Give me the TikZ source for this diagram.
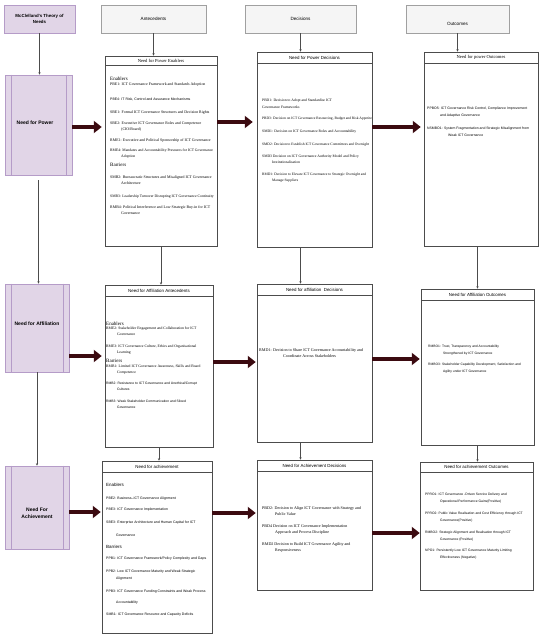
\documentclass[tikz,border=0pt]{standalone}
\usepackage{fontspec}
\setmainfont{Liberation Serif}
\setsansfont{Liberation Sans}
\usetikzlibrary{arrows.meta,calc,fit}
\definecolor{purp}{HTML}{E1D5E7}
\definecolor{purpd}{HTML}{B59CC8}
\definecolor{hdrfill}{HTML}{F5F5F5}
\definecolor{hdrdraw}{HTML}{A0A0A0}
\definecolor{fatc}{HTML}{3B0A10}
\begin{document}
\begin{tikzpicture}[x=1pt,y=-1pt,
  purpbox/.style={draw=purpd,fill=purp,line width=0.6pt,inner sep=0pt,font=\sffamily\bfseries\fontsize{5}{6.5}\selectfont,align=center},
  hdrbox/.style={draw=hdrdraw,fill=hdrfill,line width=0.6pt,inner sep=0pt,font=\sffamily\fontsize{4.6}{6}\selectfont,align=center},
  bodybox/.style={draw=black!70,fill=white,line width=0.5pt,inner sep=0pt},
  band/.style={draw=black!70,line width=0.5pt,inner sep=0pt,font=\sffamily\fontsize{4.4}{5}\selectfont},
  bandS/.style={band,font=\fontsize{4.6}{5}\selectfont},
  itS/.style={anchor=base west,inner sep=0pt,align=left,font=\fontsize{3.9}{6}\selectfont},
  itA/.style={anchor=base west,inner sep=0pt,align=left,font=\sffamily\fontsize{3.5}{6.5}\selectfont},
  sect/.style={anchor=base west,inner sep=0pt,font=\fontsize{5}{6}\selectfont},
  thinarr/.style={draw=black!70,line width=0.5pt,-{Stealth[length=2.5pt,width=2.2pt]}},
  fat/.style={draw=fatc,line width=4.5pt,-{Triangle[length=8pt,width=12pt]}}
]
\useasboundingbox (0,0) rectangle (550,639);

% header boxes
\node[hdrbox,fill=purp,draw=purpd,fit={(4,5) (75,33)}] (mc) {};
\node[font=\sffamily\bfseries\fontsize{4.4}{6.5}\selectfont,align=center,inner sep=0pt] (mct) at (mc.center) {McClelland's Theory of\\Needs};
\node[hdrbox,fit={(101,5) (206,33)}] (hA) {};
\node[font=\sffamily\fontsize{4.6}{6}\selectfont,inner sep=0pt] (hAt) at (hA.center) {Antecedents};
\node[hdrbox,fit={(245,5) (356,33)}] (hD) {};
\node[font=\sffamily\fontsize{4.6}{6}\selectfont,inner sep=0pt] (hDt) at (hD.center) {Decisions};
\node[hdrbox,fit={(406,5) (509,33)}] (hO) {};
\node[font=\sffamily\fontsize{4.6}{6}\selectfont,inner sep=0pt] (hOt) at (457.5,24) {Outcomes};

% left need boxes
\node[purpbox,fit={(5,75) (72,175)}] (np) {};
\node[font=\sffamily\bfseries\fontsize{5}{6.5}\selectfont,inner sep=0pt] (npt) at (35,123) {Need for Power};
\draw[purpd,line width=0.5pt] ([xshift=7pt]np.north west) -- ([xshift=7pt]np.south west);
\draw[purpd,line width=0.5pt] ([xshift=-6pt]np.north east) -- ([xshift=-6pt]np.south east);

\node[purpbox,fit={(5,284) (69,372)}] (na) {};
\node[font=\sffamily\bfseries\fontsize{5}{6.5}\selectfont,inner sep=0pt] (nat) at (37,324) {Need for Affiliation};
\draw[purpd,line width=0.5pt] ([xshift=7pt]na.north west) -- ([xshift=7pt]na.south west);
\draw[purpd,line width=0.5pt] ([xshift=-6pt]na.north east) -- ([xshift=-6pt]na.south east);

\node[purpbox,fit={(5,466) (69,549)}] (nh) {};
\node[font=\sffamily\bfseries\fontsize{5}{6.5}\selectfont,inner sep=0pt,align=center] (nht) at (37,513) {Need For\\Achievement};
\draw[purpd,line width=0.5pt] ([xshift=7pt]nh.north west) -- ([xshift=7pt]nh.south west);
\draw[purpd,line width=0.5pt] ([xshift=-6pt]nh.north east) -- ([xshift=-6pt]nh.south east);

% ---------- row 1: power ----------
\node[bodybox,fit={(105,56) (217,246)}] (pe) {};
\node[bandS,fit={(105,56) (217,65)}] (peT) {};
\node[font=\fontsize{4.6}{5}\selectfont,inner sep=0pt] (peTt) at (peT.center) {Need for Power Enablers};
\node[sect] (peEn) at (110,80.8) {Enablers};
\node[itS] (pe1) at (110,85.6) {PBE1: ICT Governance Framework and Standards Adoption};
\node[itA] (pe2) at (110,100.6) {PBE4: IT Risk, Control and Assurance Mechanisms};
\node[itS] (pe3) at (110,113.6) {SBE1: Formal ICT Governance Structures and Decision Rights};
\node[itS] (pe4) at (110,130.6) {SBE2: Executive ICT Governance Roles and Competence\\\hspace*{11pt}(CIO/Board)};
\node[itS] (pe5) at (110,141.6) {RME1: Executive and Political Sponsorship of ICT Governance};
\node[itS,font=\fontsize{3.75}{6}\selectfont] (pe6) at (110,157.6) {RME4: Mandates and Accountability Pressures for ICT Governance\\\hspace*{11pt}Adoption};
\node[sect] (peBa) at (110,166.8) {Barriers};
\node[itS] (pe7) at (110,184.6) {SMB2: Bureaucratic Structures and Misaligned ICT Governance\\\hspace*{11pt}Architecture};
\node[itS,font=\fontsize{3.75}{6}\selectfont] (pe8) at (110,197.6) {SMB3: Leadership Turnover Disrupting ICT Governance Continuity};
\node[itS] (pe9) at (110,214.6) {RMB4: Political Interference and Low Strategic Buy-in for ICT\\\hspace*{11pt}Governance};

\node[bodybox,fit={(257,52) (372,247)}] (pd) {};
\node[band,fit={(257,52) (372,63)}] (pdT) {};
\node[font=\sffamily\fontsize{4.4}{5}\selectfont,inner sep=0pt] (pdTt) at (pdT.center) {Need for Power Decisions};
\node[itS,font=\fontsize{3.7}{7}\selectfont] (pd1) at (262,108.5) {PBD1: Decision to Adopt and Standardise ICT\\Governance Frameworks};
\node[itS,font=\fontsize{3.6}{6}\selectfont] (pd2) at (262,119.5) {PBD3: Decision on ICT Governance Resourcing, Budget and Risk Appetite};
\node[itS,font=\fontsize{3.7}{6}\selectfont] (pd3) at (262,132.5) {SMD1: Decision on ICT Governance Roles and Accountability};
\node[itS,font=\fontsize{3.6}{6}\selectfont] (pd4) at (262,145.5) {SMD2: Decision to Establish ICT Governance Committees and Oversight};
\node[itS,font=\fontsize{3.7}{6}\selectfont] (pd5) at (262,163.5) {SMD3 Decision on ICT Governance Authority Model and Policy\\\hspace*{10pt}Institutionalisation};
\node[itS,font=\fontsize{3.6}{6}\selectfont] (pd6) at (262,181.5) {RMD1: Decision to Elevate ICT Governance to Strategic Oversight and\\\hspace*{10pt}Manage Suppliers};

\node[bodybox,fit={(424,52) (538,246)}] (po) {};
\node[bandS,fit={(424,52) (538,63)}] (poT) {};
\node[font=\fontsize{4.6}{5}\selectfont,inner sep=0pt] (poTt) at (poT.center) {Need for power Outcomes};
\node[itA,font=\sffamily\fontsize{3.45}{7.5}\selectfont] (po1) at (427,117) {PPBO5: ICT Governance Risk Control, Compliance Improvement\\\hspace*{13pt}and Adaptive Governance};
\node[itA,font=\sffamily\fontsize{3.45}{7}\selectfont] (po2) at (427,136.5) {NSMBO1: System Fragmentation and Strategic Misalignment from\\\hspace*{21pt}Weak ICT Governance};

% ---------- row 2: affiliation ----------
\node[bodybox,fit={(105,285) (213,447)}] (aa) {};
\node[band,fit={(105,285) (213,296)}] (aaT) {};
\node[font=\sffamily\fontsize{4.4}{5}\selectfont,inner sep=0pt] (aaTt) at (aaT.center) {Need for Affiliation Antecedents};
\node[sect] (aaEn) at (106,325) {Enablers};
\node[itS,font=\fontsize{3.75}{6}\selectfont] (aa1) at (106,335.6) {RME2: Stakeholder Engagement and Collaboration for ICT\\\hspace*{11pt}Governance};
\node[itS,font=\fontsize{3.75}{6}\selectfont] (aa2) at (106,353.6) {RME3: ICT Governance Culture, Ethics and Organisational\\\hspace*{11pt}Learning};
\node[sect] (aaBa) at (106,362) {Barriers};
\node[itS,font=\fontsize{3.75}{6}\selectfont] (aa3) at (106,373.6) {RMB1: Limited ICT Governance Awareness, Skills and Board\\\hspace*{11pt}Competence};
\node[itA,font=\sffamily\fontsize{3.35}{6}\selectfont] (aa4) at (106,390.6) {RMB2: Resistance to ICT Governance and Unethical/Corrupt\\\hspace*{11pt}Cultures};
\node[itA,font=\sffamily\fontsize{3.35}{6}\selectfont] (aa5) at (106,408.6) {RMB3: Weak Stakeholder Communication and Siloed\\\hspace*{11pt}Governance};

\node[bodybox,fit={(257,284) (372,442)}] (ad) {};
\node[band,fit={(257,284) (372,295)}] (adT) {};
\node[font=\sffamily\fontsize{4.4}{5}\selectfont,inner sep=0pt] (adTt) at (adT.center) {Need for affiliation\ \ Decisions};
\node[itS,font=\fontsize{4.1}{6}\selectfont] (ad1) at (259,357.5) {RMD1: Decision to Share ICT Governance Accountability and\\\hspace*{24pt}Coordinate Across Stakeholders};

\node[bodybox,fit={(421,289) (534,445)}] (ao) {};
\node[band,fit={(421,289) (534,300)}] (aoT) {};
\node[font=\sffamily\fontsize{4.4}{5}\selectfont,inner sep=0pt] (aoTt) at (aoT.center) {Need for Affiliation Outcomes};
\node[itA,font=\sffamily\fontsize{3.3}{6.5}\selectfont] (ao1) at (428,354) {RMBO1: Trust, Transparency and Accountability\\\hspace*{15pt}Strengthened by ICT Governance};
\node[itA,font=\sffamily\fontsize{3.3}{6.5}\selectfont] (ao2) at (428,372) {RMBO3: Stakeholder Capability Development, Satisfaction and\\\hspace*{15pt}Agility under ICT Governance};

% ---------- row 3: achievement ----------
\node[bodybox,fit={(102,461) (212,633)}] (ha) {};
\node[band,fit={(102,461) (212,472)}] (haT) {};
\node[font=\sffamily\fontsize{4.4}{5}\selectfont,inner sep=0pt] (haTt) at (haT.center) {Need for achievement};
\node[sect,font=\sffamily\fontsize{4.5}{6}\selectfont] (haEn) at (106,486) {Enablers};
\node[itA] (ha1) at (106,499.5) {PBE2: Business–ICT Governance Alignment};
\node[itA] (ha2) at (106,510.5) {PBE3: ICT Governance Implementation};
\node[itA] (ha3) at (106,523.5) {SBE3: Enterprise Architecture and Human Capital for ICT};
\node[itA] (ha4) at (116,536.5) {Governance};
\node[sect,font=\sffamily\fontsize{4.5}{6}\selectfont] (haBa) at (106,548) {Barriers};
\node[itA] (ha5) at (106,559.5) {PPB1: ICT Governance Framework/Policy Complexity and Gaps};
\node[itA,font=\sffamily\fontsize{3.5}{7}\selectfont] (ha6) at (106,579.5) {PPB2: Low ICT Governance Maturity and Weak Strategic\\\hspace*{10pt}Alignment};
\node[itA] (ha7) at (106,592.5) {PPB3: ICT Governance Funding Constraints and Weak Process};
\node[itA] (ha8) at (116,603.5) {Accountability};
\node[itA] (ha9) at (106,615.5) {SMB1: ICT Governance Resource and Capacity Deficits};

\node[bodybox,fit={(257,460) (372,590)}] (hd) {};
\node[band,fit={(257,460) (372,471)}] (hdT) {};
\node[font=\sffamily\fontsize{4.4}{5}\selectfont,inner sep=0pt] (hdTt) at (hdT.center) {Need for Achievement Decisions};
\node[itS,font=\fontsize{4.05}{6.2}\selectfont] (hd1) at (262,515.7) {PBD2: Decision to Align ICT Governance with Strategy and\\\hspace*{13pt}Public Value};
\node[itS,font=\fontsize{4.05}{6.2}\selectfont] (hd2) at (262,533.7) {PBD4 Decision on ICT Governance Implementation\\\hspace*{13pt}Approach and Process Discipline};
\node[itS,font=\fontsize{4.05}{6.2}\selectfont] (hd3) at (262,551.7) {RMD2 Decision to Build ICT Governance Agility and\\\hspace*{13pt}Responsiveness};

\node[bodybox,fit={(420,462) (533,590)}] (ho) {};
\node[band,fit={(420,462) (533,472)}] (hoT) {};
\node[font=\sffamily\fontsize{4.4}{5}\selectfont,inner sep=0pt] (hoTt) at (hoT.center) {Need for achievement Outcomes};
\node[itA,font=\sffamily\fontsize{3.35}{7}\selectfont] (ho1) at (425,502.5) {PPRO1: ICT Governance -Driven Service Delivery and\\\hspace*{15pt}Operational Performance Gains(Positive)};
\node[itA,font=\sffamily\fontsize{3.35}{6.5}\selectfont] (ho2) at (425,521) {PPRO2: Public Value Realisation and Cost Efficiency through ICT\\\hspace*{15pt}Governance(Positive)};
\node[itA,font=\sffamily\fontsize{3.35}{6.5}\selectfont] (ho3) at (425,540) {RMBO2: Strategic Alignment and Realisation through ICT\\\hspace*{15pt}Governance (Positive)};
\node[itA,font=\sffamily\fontsize{3.35}{6.5}\selectfont] (ho4) at (425,558) {NPO1: Persistently Low ICT Governance Maturity Limiting\\\hspace*{15pt}Effectiveness (Negative)};

% ---------- thin connectors ----------
\draw[thinarr] (mc.south) -- (mc.south |- np.north);
\draw[thinarr] ([yshift=-5pt]np.south) -- (np.south |- na.north);
\draw[thinarr] (na.south) -- (na.south |- nh.north);

\draw[thinarr] (hA.south) -- (hA.south |- pe.north);
\draw[thinarr] (pe.south) -- (pe.south |- aa.north);
\draw[thinarr] (aa.south) -- (aa.south |- ha.north);

\draw[thinarr] (hD.south) -- (hD.south |- pd.north);
\draw[thinarr] (hD.south |- pd.south) -- (hD.south |- ad.north);
\draw[thinarr] (hD.south |- ad.south) -- (hD.south |- hd.north);

\draw[thinarr] (hO.south) -- (hO.south |- po.north);
\draw[thinarr] (ao.north |- po.south) -- (ao.north);
\draw[thinarr] (ao.south) -- (ao.south |- ho.north);

% ---------- fat arrows ----------
\coordinate (r1a) at (0,127);
\coordinate (r1b) at (0,122);
\coordinate (r1c) at (0,127);
\coordinate (r2a) at (0,356);
\coordinate (r2b) at (0,362);
\coordinate (r2c) at (0,359);
\coordinate (r3a) at (0,512);
\coordinate (r3b) at (0,513);
\coordinate (r3c) at (0,533);
\draw[fat,shorten >=3pt] (np.east |- r1a) -- (pe.west |- r1a);
\draw[fat,shorten >=4pt] (pe.east |- r1b) -- (pd.west |- r1b);
\draw[fat,shorten >=3pt] (pd.east |- r1c) -- (po.west |- r1c);
\draw[fat,shorten >=3pt] (na.east |- r2a) -- (aa.west |- r2a);
\draw[fat,shorten >=1pt] (aa.east |- r2b) -- (ad.west |- r2b);
\draw[fat,shorten >=1pt] (ad.east |- r2c) -- (ao.west |- r2c);
\draw[fat,shorten >=1pt] (nh.east |- r3a) -- (ha.west |- r3a);
\draw[fat,shorten >=1pt] (ha.east |- r3b) -- (hd.west |- r3b);
\draw[fat] (hd.east |- r3c) -- (ho.west |- r3c);
\end{tikzpicture}
\end{document}
